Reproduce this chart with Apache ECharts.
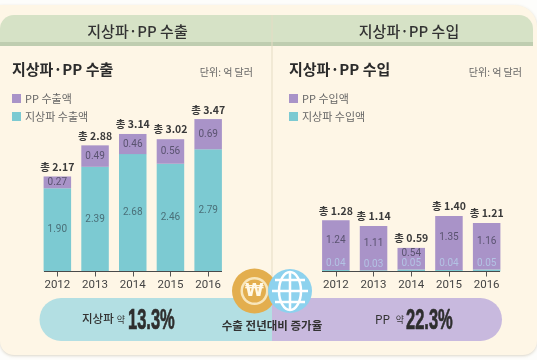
<!DOCTYPE html>
<html>
<head>
<meta charset="utf-8">
<style>
  html, body { margin: 0; padding: 0; background: #fdfdfb; }
  #chart { width: 537px; height: 360px; }
</style>
<script src="https://cdn.jsdelivr.net/npm/echarts@6/dist/echarts.min.js"></script>
</head>
<body>
<div id="chart"></div>
<script>
const YEARS = ['2012', '2013', '2014', '2015', '2016']

const EXPORT_TERRESTRIAL = [1.90, 2.39, 2.68, 2.46, 2.79]
const EXPORT_PP = [0.27, 0.49, 0.46, 0.56, 0.69]
const EXPORT_TOTAL = [2.17, 2.88, 3.14, 3.02, 3.47]

const IMPORT_TERRESTRIAL = [0.04, 0.03, 0.05, 0.04, 0.05]
const IMPORT_PP = [1.24, 1.11, 0.54, 1.35, 1.16]
const IMPORT_TOTAL = [1.28, 1.14, 0.59, 1.40, 1.21]

const TEAL = '#7CCAD2'
const PURPLE = '#A993C8'
const INK = '#3A3A3A'
const FONT = '"Noto Sans CJK KR", sans-serif'
const NUM_FONT = 'Roboto, sans-serif'

const fmt = (v) => v.toFixed(2)

function stackSeries(axisIndex, names, bottom, top, totals, bottomLabel, topOffset) {
  return [
    {
      name: names[1],
      type: 'bar',
      stack: 's' + axisIndex,
      xAxisIndex: axisIndex,
      yAxisIndex: axisIndex,
      barWidth: 27.5,
      data: bottom,
      itemStyle: { color: TEAL },
      label: { show: true, formatter: ({ value }) => fmt(value), ...bottomLabel },
    },
    {
      name: names[0],
      type: 'bar',
      stack: 's' + axisIndex,
      xAxisIndex: axisIndex,
      yAxisIndex: axisIndex,
      barWidth: 27.5,
      data: top,
      itemStyle: { color: PURPLE },
      label: {
        show: true,
        position: 'inside',
        offset: [0, topOffset],
        color: '#5A5370',
        fontFamily: NUM_FONT,
        fontSize: 10,
        formatter: ({ value }) => fmt(value),
      },
    },
    {
      // invisible carrier for the totals above each stack
      type: 'line',
      xAxisIndex: axisIndex,
      yAxisIndex: axisIndex,
      data: totals,
      symbol: 'circle',
      symbolSize: 1,
      showAllSymbol: true,
      itemStyle: { color: 'transparent' },
      lineStyle: { color: 'transparent' },
      label: {
        show: true,
        position: 'top',
        distance: 4,
        color: INK,
        fontFamily: FONT,
        fontWeight: 600,
        fontSize: 10.5,
        formatter: ({ value }) => '총 ' + fmt(value),
      },
    },
  ]
}

function xAxis(gridIndex) {
  return {
    type: 'category',
    gridIndex,
    data: YEARS,
    axisLine: { show: false },
    axisTick: { show: true, alignWithLabel: true, length: 5, lineStyle: { color: '#555', width: 1 } },
    axisLabel: { color: '#444', fontFamily: NUM_FONT, fontSize: 11.5, margin: 8, interval: 0 },
  }
}

function yAxis(gridIndex, max) {
  return { type: 'value', gridIndex, min: 0, max, show: false }
}

const legendBase = {
  orient: 'vertical',
  icon: 'rect',
  itemWidth: 9,
  itemHeight: 9,
  itemGap: 7,
  selectedMode: false,
  textStyle: { color: '#666', fontFamily: FONT, fontSize: 11, padding: [0, 0, 0, -1] },
}

const chart = echarts.init(document.getElementById('chart'), null, { renderer: 'canvas' })
chart.setOption({
  animation: false,
  title: [
    { text: '지상파·PP 수출', left: 7, top: 57, textStyle: { color: '#2B2B2B', fontFamily: FONT, fontWeight: 600, fontSize: 15 } },
    { text: '지상파·PP 수입', left: 284, top: 57, textStyle: { color: '#2B2B2B', fontFamily: FONT, fontWeight: 600, fontSize: 15 } },
  ],
  legend: [
    { ...legendBase, left: 7, top: 88, data: ['PP 수출액', '지상파 수출액'] },
    { ...legendBase, left: 284, top: 88, data: ['PP 수입액', '지상파 수입액'] },
  ],
  grid: [
    { left: 38.5, width: 188.5, top: 60, height: 211.5 },
    { left: 317, width: 188.5, top: 60, height: 211.5 },
  ],
  xAxis: [xAxis(0), xAxis(1)],
  yAxis: [yAxis(0, 211.5 / 43.8), yAxis(1, 211.5 / 40)],
  series: [
    ...stackSeries(0, ['PP 수출액', '지상파 수출액'], EXPORT_TERRESTRIAL, EXPORT_PP, EXPORT_TOTAL, {
      position: 'inside', color: '#4A6F78', fontFamily: NUM_FONT, fontSize: 10,
    }, 0),
    ...stackSeries(1, ['PP 수입액', '지상파 수입액'], IMPORT_TERRESTRIAL, IMPORT_PP, IMPORT_TOTAL, {
      position: 'top', distance: 1, color: '#B3C3E4', fontFamily: NUM_FONT, fontSize: 10,
    }, -5),
  ],
  graphic: [
    // panel and headers
    { type: 'rect', z: -10, shape: { x: 0, y: 5, width: 537, height: 350, r: [0, 22, 14, 14] }, style: { fill: '#FEF6E6', shadowColor: 'rgba(120,100,60,0.25)', shadowBlur: 3, shadowOffsetY: 1 } },
    { type: 'rect', z: -9, shape: { x: 0, y: 15, width: 533, height: 31, r: [14, 14, 0, 0] }, style: { fill: '#D6E2C6' } },
    { type: 'rect', z: -8, shape: { x: 0, y: 42, width: 533, height: 4 }, style: { fill: '#BFCDB0' } },
    { type: 'line', z: -7, shape: { x1: 272, y1: 15, x2: 272, y2: 298 }, style: { stroke: '#E5DCC4', lineWidth: 1 } },
    { type: 'text', x: 137.5, y: 31, style: { text: '지상파·PP 수출', fill: '#333', font: '500 15px "Noto Sans CJK KR"', align: 'center', verticalAlign: 'middle' } },
    { type: 'text', x: 409, y: 31, style: { text: '지상파·PP 수입', fill: '#333', font: '500 15px "Noto Sans CJK KR"', align: 'center', verticalAlign: 'middle' } },
    { type: 'text', x: 253, y: 72, style: { text: '단위: 억 달러', fill: '#666', font: '10px "Noto Sans CJK KR"', align: 'right', verticalAlign: 'middle' } },
    { type: 'text', x: 522, y: 72, style: { text: '단위: 억 달러', fill: '#666', font: '10px "Noto Sans CJK KR"', align: 'right', verticalAlign: 'middle' } },
    // baselines
    { type: 'line', z: 5, shape: { x1: 44, y1: 271.5, x2: 222, y2: 271.5 }, style: { stroke: '#4A4A4A', lineWidth: 1 } },
    { type: 'line', z: 5, shape: { x1: 322, y1: 271.5, x2: 500, y2: 271.5 }, style: { stroke: '#4A4A4A', lineWidth: 1 } },
    // bottom pill
    { type: 'rect', z: 6, shape: { x: 39.5, y: 298, width: 232.5, height: 43, r: [21.5, 0, 0, 21.5] }, style: { fill: '#B3DFE3' } },
    { type: 'rect', z: 6, shape: { x: 272, y: 298, width: 230, height: 43, r: [0, 21.5, 21.5, 0] }, style: { fill: '#C8B9DE' } },
    { type: 'text', z: 7, x: 82, y: 319, style: { text: '지상파', fill: '#333', font: '500 11.5px "Noto Sans CJK KR"', verticalAlign: 'middle' } },
    { type: 'text', z: 7, x: 121, y: 320, style: { text: '약', fill: '#333', font: '9px "Noto Sans CJK KR"', align: 'center', verticalAlign: 'middle' } },
    { type: 'text', z: 7, x: 128, y: 320.5, scaleX: 0.55, style: { text: '13.3%', fill: '#2E2E2E', stroke: '#2E2E2E', lineWidth: 0.7, font: 'bold 30px "Liberation Sans"', verticalAlign: 'middle' } },
    { type: 'text', z: 7, x: 375, y: 319, style: { text: 'PP', fill: '#333', font: '12px "Noto Sans CJK KR"', verticalAlign: 'middle' } },
    { type: 'text', z: 7, x: 400, y: 320, style: { text: '약', fill: '#333', font: '9px "Noto Sans CJK KR"', align: 'center', verticalAlign: 'middle' } },
    { type: 'text', z: 7, x: 406, y: 320.5, scaleX: 0.55, style: { text: '22.3%', fill: '#2E2E2E', stroke: '#2E2E2E', lineWidth: 0.7, font: 'bold 30px "Liberation Sans"', verticalAlign: 'middle' } },
    { type: 'text', z: 7, x: 272, y: 326, style: { text: '수출 전년대비 증가율', fill: '#333', font: '600 11.5px "Noto Sans CJK KR"', align: 'center', verticalAlign: 'middle' } },
    // coin
    { type: 'circle', z: 8, shape: { cx: 254.5, cy: 291, r: 22.5 }, style: { fill: '#E3AE4E' } },
    { type: 'circle', z: 8, shape: { cx: 254.5, cy: 291, r: 14 }, style: { fill: '#F8E6BC' } },
    { type: 'circle', z: 8, shape: { cx: 254.5, cy: 291, r: 11.5 }, style: { fill: '#E3AE4E' } },
    { type: 'text', z: 9, x: 254.5, y: 291.5, style: { text: '₩', fill: '#FFF8E6', font: 'bold 17px "DejaVu Sans"', align: 'center', verticalAlign: 'middle' } },
    // globe
    { type: 'circle', z: 10, shape: { cx: 290, cy: 291, r: 22 }, style: { fill: '#8DD2EE' } },
    { type: 'ellipse', z: 11, shape: { cx: 290, cy: 291, rx: 11, ry: 19 }, style: { fill: 'none', stroke: '#FFFFFF', lineWidth: 2.5 } },
    { type: 'line', z: 11, shape: { x1: 290, y1: 272, x2: 290, y2: 310 }, style: { stroke: '#FFFFFF', lineWidth: 2.5 } },
    { type: 'line', z: 11, shape: { x1: 272, y1: 291, x2: 308, y2: 291 }, style: { stroke: '#FFFFFF', lineWidth: 2.5 } },
    { type: 'line', z: 11, shape: { x1: 275, y1: 280, x2: 305, y2: 280 }, style: { stroke: '#FFFFFF', lineWidth: 2.5 } },
    { type: 'line', z: 11, shape: { x1: 275, y1: 302, x2: 305, y2: 302 }, style: { stroke: '#FFFFFF', lineWidth: 2.5 } },
  ],
})
</script>
</body>
</html>
